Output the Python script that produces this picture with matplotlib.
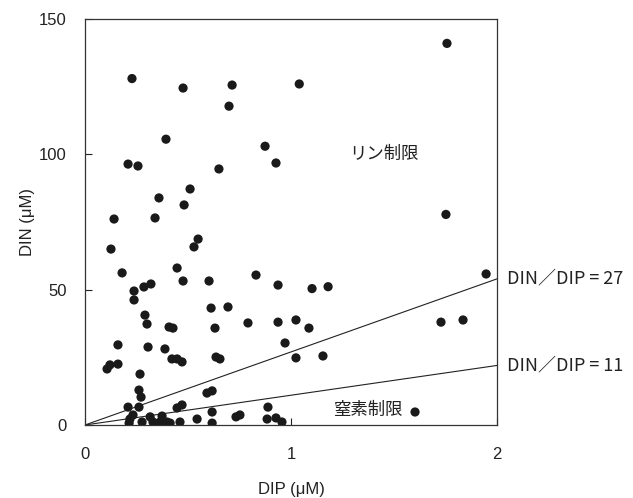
import matplotlib.pyplot as plt
import numpy as np

plt.rcParams['font.family'] = ['Liberation Sans', 'Noto Sans CJK JP', 'DejaVu Sans']

# DIP (uM) and DIN (uM)
dip = [1.757, 0.228, 0.476, 0.714, 0.699, 1.040, 0.393, 0.874, 0.209, 0.257,
       0.650, 0.927, 0.510, 0.359, 0.481, 0.141, 0.340, 1.752,
       0.126, 0.549, 0.529, 0.180, 0.447, 0.476, 0.602, 0.830, 0.937, 0.238,
       0.238, 0.286, 0.320, 0.612, 0.694, 0.291, 0.301, 0.408, 0.427, 0.631,
       0.791, 0.937, 1.024, 0.971, 1.024, 0.160, 0.306, 0.388, 0.107, 0.121,
       0.160, 0.422, 0.447, 0.471, 0.636, 0.655, 0.267,
       1.947, 1.102, 1.180, 1.087, 1.155, 1.728, 1.835, 1.602,
       0.262, 0.272, 0.592, 0.617, 0.209, 0.262, 0.447, 0.471, 0.617, 0.888,
       0.233, 0.218, 0.214, 0.277, 0.316, 0.330, 0.374, 0.364, 0.398, 0.413,
       0.461, 0.544, 0.617, 0.733, 0.752, 0.884, 0.927, 0.956]
din = [141.0, 128.0, 124.5, 125.6, 117.8, 126.0, 105.6, 103.0, 96.4, 95.7,
       94.6, 96.8, 87.2, 83.9, 81.3, 76.1, 76.5, 77.8,
       65.0, 68.7, 65.8, 56.2, 58.0, 53.2, 53.2, 55.4, 51.7, 49.5,
       46.2, 51.0, 52.1, 43.2, 43.6, 40.6, 37.3, 36.2, 35.8, 35.8,
       37.7, 38.0, 38.8, 30.3, 24.8, 29.6, 28.8, 28.1, 20.7, 22.2,
       22.5, 24.4, 24.4, 23.3, 25.1, 24.4, 18.8,
       55.8, 50.4, 51.1, 35.8, 25.5, 38.0, 38.8, 4.8,
       12.9, 10.3, 11.8, 12.6, 6.6, 6.6, 6.3, 7.4, 4.8, 6.6,
       3.7, 2.2, 0.7, 1.1, 3.0, 1.1, 3.3, 1.1, 1.1, 0.7,
       1.1, 2.2, 0.7, 3.0, 3.7, 2.2, 2.6, 1.1]

ratios = [27, 11]
ratio_labels = ['DIN／DIP = 27', 'DIN／DIP = 11']

fig = plt.figure(figsize=(6.33, 4.98), dpi=100)
ax = fig.add_axes([0.1343, 0.1466, 0.6509, 0.8152])

xs = np.array([0, 2])
for r, lab in zip(ratios, ratio_labels):
    ax.plot(xs, r * xs, color='#222222', lw=0.8, zorder=1)
    ax.annotate(lab, xy=(2, r * 2), xytext=(7, 0), textcoords='offset points',
                ha='left', va='center', fontsize=13, color='#222222',
                family=['Noto Sans CJK JP', 'DejaVu Sans'], annotation_clip=False)

ax.scatter(dip, din, s=44, color='#1a1a1a', edgecolors='none', zorder=3)

ax.text(1.45, 100, 'リン制限', fontsize=12.5, ha='center', va='center',
        family=['Noto Sans CJK JP'], color='#222222')
ax.text(1.375, 5.5, '窒素制限', fontsize=12.5, ha='center', va='center',
        family=['Noto Sans CJK JP'], color='#222222')

ax.set_xlim(0, 2)
ax.set_ylim(0, 150)
ax.set_xticks([0, 1, 2])
ax.set_yticks([0, 50, 100, 150])
ax.tick_params(axis='both', direction='in', length=5, width=0.8,
               labelsize=12, colors='#222222')
ax.tick_params(axis='x', pad=15.5)
ax.tick_params(axis='y', pad=13)
for sp in ax.spines.values():
    sp.set_linewidth(0.9)
    sp.set_color('#333333')

ax.set_xlabel('DIP (μM)', fontsize=12, labelpad=14.5, color='#222222')
ax.set_ylabel('DIN (μM)', fontsize=12, labelpad=3, color='#222222')

fig.savefig('out.png', dpi=100)
